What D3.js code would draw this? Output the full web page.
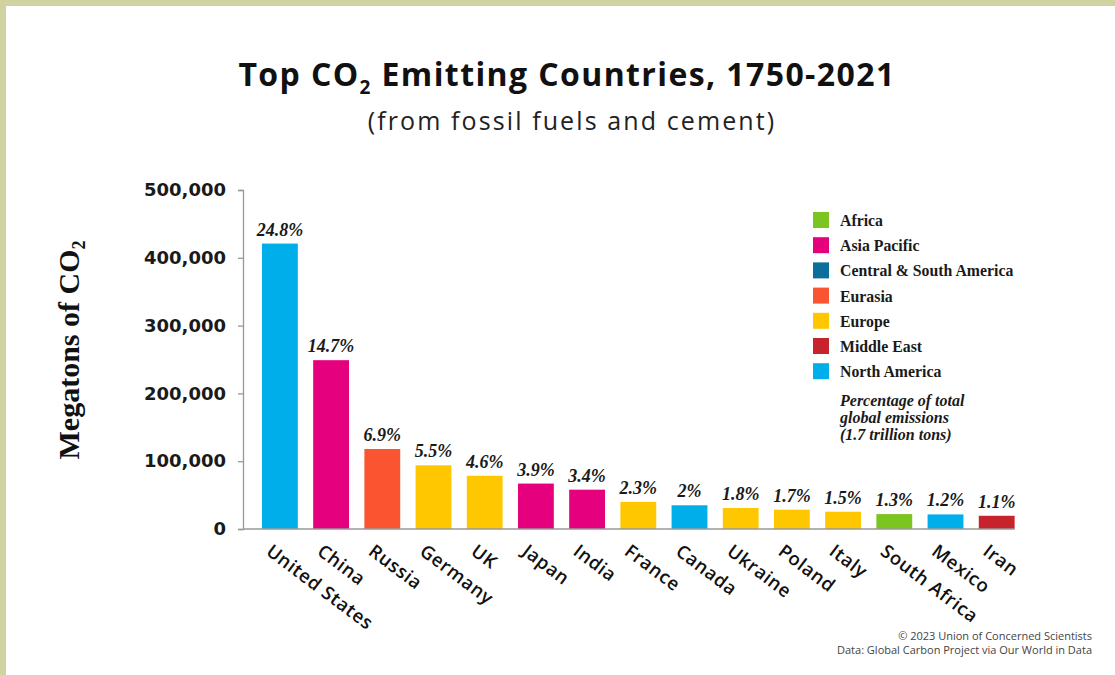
<!DOCTYPE html>
<html>
<head>
<meta charset="utf-8">
<script src="https://cdn.jsdelivr.net/npm/d3@7/dist/d3.min.js"></script>
<style>
  html, body { margin: 0; padding: 0; background: #d0d2a2; }
  svg { display: block; }
</style>
</head>
<body>
<svg id="chart" width="1115" height="675"></svg>
<script>
// ---- data ----
const countries = ["United States","China","Russia","Germany","UK","Japan","India","France","Canada","Ukraine","Poland","Italy","South Africa","Mexico","Iran"];
const regions = ["North America","Asia Pacific","Eurasia","Europe","Europe","Asia Pacific","Asia Pacific","Europe","North America","Europe","Europe","Europe","Africa","North America","Middle East"];
const emissions = [421000, 249000, 118000, 94000, 78500, 67000, 58000, 40000, 35000, 31000, 28500, 25500, 22000, 21500, 19500];
const percentLabels = ["24.8%","14.7%","6.9%","5.5%","4.6%","3.9%","3.4%","2.3%","2%","1.8%","1.7%","1.5%","1.3%","1.2%","1.1%"];
const legendRegions = ["Africa","Asia Pacific","Central & South America","Eurasia","Europe","Middle East","North America"];
const legendColors = ["#7cc520","#e5007d","#0b6e9c","#fb5430","#ffc700","#c6232c","#00aeea"];
const yTicks = [0, 100000, 200000, 300000, 400000, 500000];
const noteLines = ["Percentage of total","global emissions","(1.7 trillion tons)"];

const svg = d3.select("#chart");
const W = 1115, H = 675;

// background & panel
svg.append("rect").attr("width", W).attr("height", H).attr("fill", "#d0d2a2");
svg.append("rect").attr("x", 6).attr("y", 6).attr("width", W - 6).attr("height", H - 6).attr("fill", "#ffffff");

const color = d3.scaleOrdinal().domain(legendRegions).range(legendColors);

const x = d3.scaleBand().domain(countries).range([254.3, 1022.3]).paddingInner(0.3).paddingOuter(0.15);
const y = d3.scaleLinear().domain([0, 500000]).range([529, 190]);

const sans = "'Open Sans', 'Noto Sans', sans-serif";
const serif = "'Liberation Serif', 'DejaVu Serif', serif";

// title
const title = svg.append("text").attr("x", 567).attr("y", 86).attr("text-anchor", "middle")
  .attr("font-family", sans).attr("font-weight", 700).attr("font-size", 32)
  .attr("letter-spacing", 1.4).attr("fill", "#111");
title.append("tspan").text("Top CO");
title.append("tspan").attr("font-size", 19).attr("dy", 8).text("2");
title.append("tspan").attr("dy", -8).text(" Emitting Countries, 1750-2021");

svg.append("text").attr("x", 572).attr("y", 130).attr("text-anchor", "middle")
  .attr("font-family", sans).attr("font-weight", 400).attr("font-size", 25)
  .attr("letter-spacing", 2.1).attr("fill", "#222")
  .text("(from fossil fuels and cement)");

// y axis
const yAxis = svg.append("g").attr("transform", "translate(243,0)")
  .call(d3.axisLeft(y).tickValues(yTicks).tickSize(5).tickPadding(12).tickFormat(d3.format(",")));
yAxis.select(".domain").attr("stroke", "#999").attr("stroke-width", 1.3);
yAxis.selectAll(".tick line").attr("stroke", "#999").attr("stroke-width", 1.3);
yAxis.selectAll(".tick text").attr("font-family", "'DejaVu Sans', sans-serif").attr("font-weight", 700)
  .attr("font-size", 18).attr("fill", "#1a1a1a");

// y axis title
const yt = svg.append("text").attr("transform", "translate(79,350) rotate(-90)").attr("text-anchor", "middle")
  .attr("font-family", serif).attr("font-weight", 700).attr("font-size", 30).attr("fill", "#111");
yt.append("tspan").text("Megatons of CO");
yt.append("tspan").attr("font-size", 18).attr("dy", 6).text("2");

// bars
svg.append("g").selectAll("rect").data(countries).join("rect")
  .attr("x", d => x(d)).attr("width", x.bandwidth())
  .attr("y", (d, i) => y(emissions[i]))
  .attr("height", (d, i) => y(0) - y(emissions[i]))
  .attr("fill", (d, i) => color(regions[i]));

// baseline
svg.append("line").attr("x1", 243).attr("x2", x(countries[countries.length - 1]) + x.bandwidth())
  .attr("y1", y(0)).attr("y2", y(0)).attr("stroke", "#999").attr("stroke-width", 1.5);

// percent labels
svg.append("g").selectAll("text").data(countries).join("text")
  .attr("x", d => x(d) + x.bandwidth() / 2)
  .attr("y", (d, i) => y(emissions[i]) - 8)
  .attr("text-anchor", "middle")
  .attr("font-family", serif).attr("font-weight", 700).attr("font-style", "italic")
  .attr("font-size", 18).attr("fill", "#1a1a1a")
  .text((d, i) => percentLabels[i]);

// x labels
svg.append("g").selectAll("text").data(countries).join("text")
  .attr("transform", d => `translate(${x(d) + x.bandwidth() / 2 - 7},${y(0) + 14}) rotate(37)`)
  .attr("dy", "0.72em")
  .attr("font-family", sans).attr("font-weight", 600).attr("font-size", 18.5)
  .attr("letter-spacing", 0.6).attr("fill", "#111")
  .text(d => d);

// legend
const lg = svg.append("g").attr("transform", "translate(813,212)");
const rows = lg.selectAll("g").data(legendRegions).join("g")
  .attr("transform", (d, i) => `translate(0,${i * 25.2})`);
rows.append("rect").attr("width", 16).attr("height", 16).attr("fill", d => color(d));
rows.append("text").attr("x", 27).attr("y", 14)
  .attr("font-family", serif).attr("font-weight", 700).attr("font-size", 15.8).attr("fill", "#1a1a1a")
  .text(d => d);

svg.append("g").selectAll("text").data(noteLines).join("text")
  .attr("x", 840).attr("y", (d, i) => 406 + i * 17)
  .attr("font-family", serif).attr("font-weight", 700).attr("font-style", "italic")
  .attr("font-size", 16).attr("fill", "#1a1a1a")
  .text(d => d);

// footer
svg.append("text").attr("x", 1092).attr("y", 640).attr("text-anchor", "end")
  .attr("font-family", sans).attr("font-size", 11).attr("fill", "#444")
  .text("© 2023 Union of Concerned Scientists");
svg.append("text").attr("x", 1092).attr("y", 654).attr("text-anchor", "end")
  .attr("font-family", sans).attr("font-size", 11).attr("fill", "#444")
  .text("Data: Global Carbon Project via Our World in Data");
</script>
</body>
</html>
